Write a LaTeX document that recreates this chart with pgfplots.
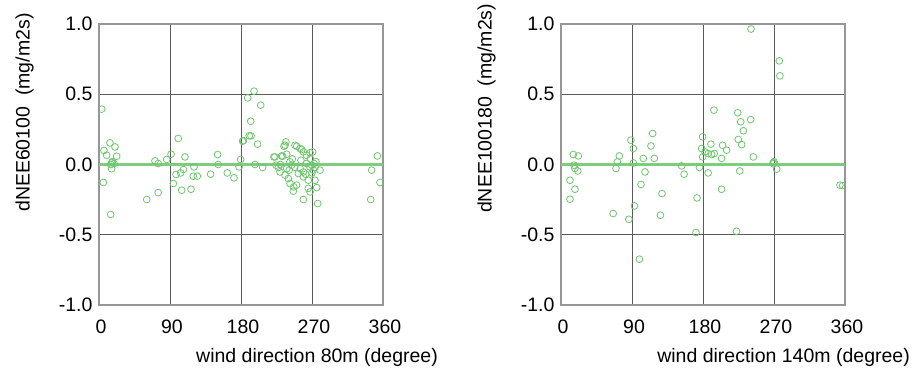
\documentclass[border=0pt]{standalone}
\usepackage{pgfplots}
\pgfplotsset{compat=1.18}
\usepackage{fontspec}
\setmainfont{Liberation Sans}
\definecolor{ptgreen}{RGB}{110,198,110}
\definecolor{lngreen}{RGB}{125,205,125}
\definecolor{framegray}{RGB}{150,150,150}
\definecolor{gridgray}{RGB}{90,90,90}
\pgfplotsset{
  myaxis/.style={
    scale only axis, width=284pt, height=281pt,
    xmin=0, xmax=360, ymin=-1, ymax=1,
    xtick={0,90,180,270,360}, ytick={-1,-0.5,0,0.5,1},
    grid=major, major tick length=0pt,
    grid style={gridgray, line width=1pt},
    axis line style={framegray, line width=2pt},
    font=\fontsize{19.5}{23}\selectfont,
    ticklabel style={font=\fontsize{19.5}{23}\selectfont},
    /pgf/number format/assume math mode=true,
    yticklabel style={/pgf/number format/fixed, /pgf/number format/fixed zerofill, /pgf/number format/precision=1, xshift=-3pt},
    xticklabel style={yshift=-11pt, xshift=2pt},
    xlabel style={inner sep=0pt, anchor=east},
    ylabel style={inner sep=0pt, anchor=west},
    clip marker paths=true,
  },
  pts/.style={only marks, mark=o, mark size=3.4pt, ptgreen, mark options={line width=0.8pt}},
  zl/.style={lngreen, line width=2.2pt}
}
\begin{document}
\begin{tikzpicture}
\path[use as bounding box] (0,0) rectangle (913pt,372pt);
\begin{axis}[myaxis, at={(99pt,67pt)}, anchor=south west,
  xlabel={wind direction 80m (degree)},
  xlabel style={at={(axis description cs:1.194,-0.185)}},
  ylabel={dNEE60100\ \ (mg/m2s)},
  ylabel style={at={(axis description cs:-0.262,0.331)}}]
\addplot[zl] coordinates {(0,0) (360,0)};
\addplot[pts] coordinates {
(3.4,0.394) (5.5,-0.128) (6.3,0.10) (9.7,0.066) (13.9,0.154) (20.3,0.125) (22.4,0.059)
(16,0.014) (19,0.007) (17,0.02) (15,0.0) (16,-0.03) (14.8,-0.356)
(71,0.026) (75,0.007) (85.8,0.036) (91.3,0.073) (100.5,0.185) (109,0.054)
(60.5,-0.249) (75,-0.2) (94.2,-0.135) (97.6,-0.071) (103.5,-0.06) (107,-0.036)
(104.8,-0.183) (116.6,-0.176) (120.4,-0.017) (119.5,-0.083) (124.6,-0.083)
(141.5,-0.069) (150.4,0.071) (151.2,0.0) (162.6,-0.06) (171.1,-0.095) (177.5,-0.017)
(179.6,0.036) (182,0.166) (183,0.17) (190.5,0.204) (192.7,0.204) (201,0.145)
(197.7,0.0) (207.5,-0.021) (188.5,0.474) (196.5,0.522) (205,0.422) (192.3,0.308)
(223,0.054) (232.8,0.059) (237.9,0.073) (237,0.161) (234.5,0.13) (250.6,0.13)
(256.9,0.107) (263,0.066) (267.5,0.083) (270.8,0.09) (224.4,-0.005) (227.3,-0.021)
(229.4,-0.053) (242,0.019) (244.2,-0.005) (241.2,-0.04) (235.8,-0.076) (240,-0.1)
(242.1,-0.135) (246.9,-0.159) (250.5,-0.147) (246.3,-0.19) (252.7,-0.064) (259,-0.053)
(259,-0.088) (263,0.007) (267.5,-0.017) (265.3,-0.112) (265.3,-0.17) (267.5,-0.195)
(259,-0.249) (271.6,-0.04) (273.8,-0.112) (276,-0.164) (277.2,-0.278) (280.1,-0.04)
(269.6,-0.005) (272.5,0.007) (268,0.04) (235.8,0.137) (248.4,0.137) (254.8,0.114)
(259,0.09) (221.8,0.054) (231.5,0.061) (248,-0.02) (255,-0.03) (262,-0.07) (270,-0.06)
(274,-0.02) (238,-0.03) (245,0.04) (256,0.03) (230,0.0) (275,0.02)
(352.8,0.061) (345.6,-0.04) (344.4,-0.249) (356.2,-0.128)
};
\end{axis}
\begin{axis}[myaxis, at={(561pt,67pt)}, anchor=south west,
  xlabel={wind direction 140m (degree)},
  xlabel style={at={(axis description cs:1.229,-0.185)}},
  ylabel={dNEE100180\ \ (mg/m2s)},
  ylabel style={at={(axis description cs:-0.262,0.327)}}]
\addplot[zl] coordinates {(0,0) (360,0)};
\addplot[pts] coordinates {
(240.8,0.964) (193.9,0.387) (224,0.368) (240.5,0.32) (227.8,0.304) (231.1,0.24)
(224.7,0.178) (229,0.142) (116.2,0.221) (88.6,0.173) (114,0.132) (91.7,0.114)
(179.5,0.197) (190,0.145) (204.8,0.137) (209.9,0.102) (203.5,0.043) (178.3,0.114)
(182.5,0.09) (186.7,0.078) (191,0.071) (194.3,0.078) (179.5,0.054) (243.8,0.054)
(104.3,0.043) (118.3,0.043) (73.9,0.061) (71.4,0.019) (69.7,-0.028) (91.7,0.011)
(15.6,0.071) (22,0.061) (16.5,-0.005) (17.7,-0.028) (21.2,-0.046) (11.4,-0.112)
(153,-0.01) (156,-0.069) (106.5,-0.053) (175.5,-0.021) (186.5,-0.06) (226.6,-0.046)
(101.4,-0.142) (17.7,-0.176) (11.4,-0.247) (128,-0.207) (93.1,-0.295) (66.1,-0.349)
(86,-0.39) (126,-0.361) (172.4,-0.238) (203.5,-0.176) (171.1,-0.484) (222.5,-0.475)
(99.3,-0.674) (269.1,0.014) (270,0.02) (269,0.005) (273.4,-0.033) (353.6,-0.147)
(357,-0.15) (276.7,0.738) (277.5,0.631)
};
\end{axis}
\end{tikzpicture}
\end{document}
